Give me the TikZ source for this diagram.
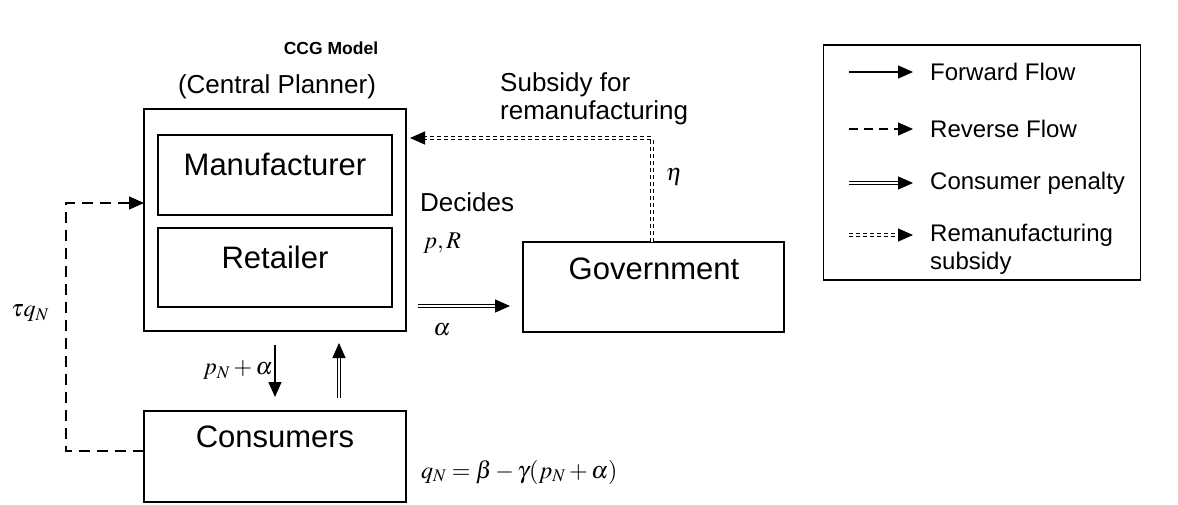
\documentclass[tikz,border=0pt]{standalone}
\usepackage{mathptmx}
\usepackage[no-math]{fontspec}
\setmainfont{Liberation Sans}
\usetikzlibrary{arrows.meta}
\begin{document}
\begin{tikzpicture}[x=1pt,y=-1pt,
  box/.style={draw,line width=1.5pt,inner sep=0pt},
  mainlbl/.style={font=\fontsize{31}{36}\selectfont,inner sep=0pt},
  lbl/.style={font=\fontsize{26}{29}\selectfont,inner sep=0pt},
  leglbl/.style={font=\fontsize{24}{28}\selectfont,inner sep=0pt},
  mathlbl/.style={font=\fontsize{24}{28}\selectfont,inner sep=0pt},
  tip/.style={-{Triangle[length=15pt,width=13pt]}},
  fwd/.style={tip,line width=1.3pt},
  rev/.style={tip,line width=1.3pt,dash pattern=on 11pt off 7pt},
  pen/.style={tip,line width=1.1pt,double,double distance=2pt},
  sub/.style={tip,line width=1.2pt,double,double distance=2pt,dash pattern=on 4pt off 3pt}]
\useasboundingbox (0,0) rectangle (1178,504);

\node[font=\bfseries\fontsize{17.5}{20}\selectfont,inner sep=0pt] (title) at (331,48) {CCG Model};
\node[lbl] (cp) at (277,87) {(Central Planner)};

% central planner
\node[box,minimum width=262pt,minimum height=222pt] (outer) at (275,220) {};
\node[box,minimum width=234pt,minimum height=80pt] (man) at (275,175) {};
\node[mainlbl] (mant) at (275,164) {Manufacturer};
\node[box,minimum width=234pt,minimum height=79pt] (ret) at (275,267.5) {};
\node[mainlbl] (rett) at (275,257) {Retailer};

% government
\node[box,minimum width=261pt,minimum height=90pt] (gov) at (653.5,287) {};
\node[mainlbl] (govt) at (654,269) {Government};

% consumers
\node[box,minimum width=262pt,minimum height=91pt] (cons) at (275,456.5) {};
\node[mainlbl] (const) at (275,437) {Consumers};

% forward / consumer arrows
\coordinate (d0) at (275,345);
\coordinate (d1) at (275,397);
\draw[fwd] (d0) -- (d1);
\coordinate (u0) at (339,398);
\coordinate (u1) at (339,343);
\draw[pen] (u0) -- (u1);
\node[mathlbl,anchor=east] (pna) at (273,370) {$p_N+\alpha$};

% penalty to government
\coordinate (g0) at (418,306);
\coordinate (g1) at (510,306);
\draw[pen] (g0) -- (g1);
\node[mathlbl] (al) at (442,330) {$\alpha$};

% decides
\node[lbl,anchor=west] (dec) at (420,202) {Decides};
\node[mathlbl,anchor=west] (pr) at (423,243) {$p, R$};

% subsidy
\coordinate (s0) at (652,242);
\coordinate (s1) at (410,138);
\draw[sub] (s0) |- (s1);
\node[mathlbl] (eta) at (674,177) {$\eta$};
\node[lbl,anchor=west,align=left,font=\fontsize{26}{28}\selectfont] (subt) at (500,99) {Subsidy for\\remanufacturing};

% reverse flow
\coordinate (r0) at (144,451);
\coordinate (r1) at (66,203);
\coordinate (r2) at (144,203);
\draw[rev] (r0) -| (r1) -- (r2);
\node[mathlbl] (tau) at (30,313) {$\tau q_N$};

% demand
\node[mathlbl,anchor=west] (eq) at (421,472) {$q_N=\beta-\gamma(p_N+\alpha)$};

% legend
\node[box,minimum width=317pt,minimum height=235pt] (leg) at (982,162.5) {};
\coordinate (l1a) at (849,72);  \coordinate (l1b) at (913,72);
\coordinate (l2a) at (849,129); \coordinate (l2b) at (913,129);
\coordinate (l3a) at (849,183); \coordinate (l3b) at (913,183);
\coordinate (l4a) at (849,235); \coordinate (l4b) at (913,235);
\draw[fwd] (l1a) -- (l1b);
\draw[rev,dash pattern=on 9pt off 6pt] (l2a) -- (l2b);
\draw[pen] (l3a) -- (l3b);
\draw[sub] (l4a) -- (l4b);
\node[leglbl,anchor=west] (lt1) at (930,72) {Forward Flow};
\node[leglbl,anchor=west] (lt2) at (930,129) {Reverse Flow};
\node[leglbl,anchor=west] (lt3) at (930,183) {Consumer penalty};
\node[leglbl,anchor=north west,align=left,font=\fontsize{24}{28}\selectfont] (lt4) at (930,224) {Remanufacturing\\subsidy};
\end{tikzpicture}
\end{document}
